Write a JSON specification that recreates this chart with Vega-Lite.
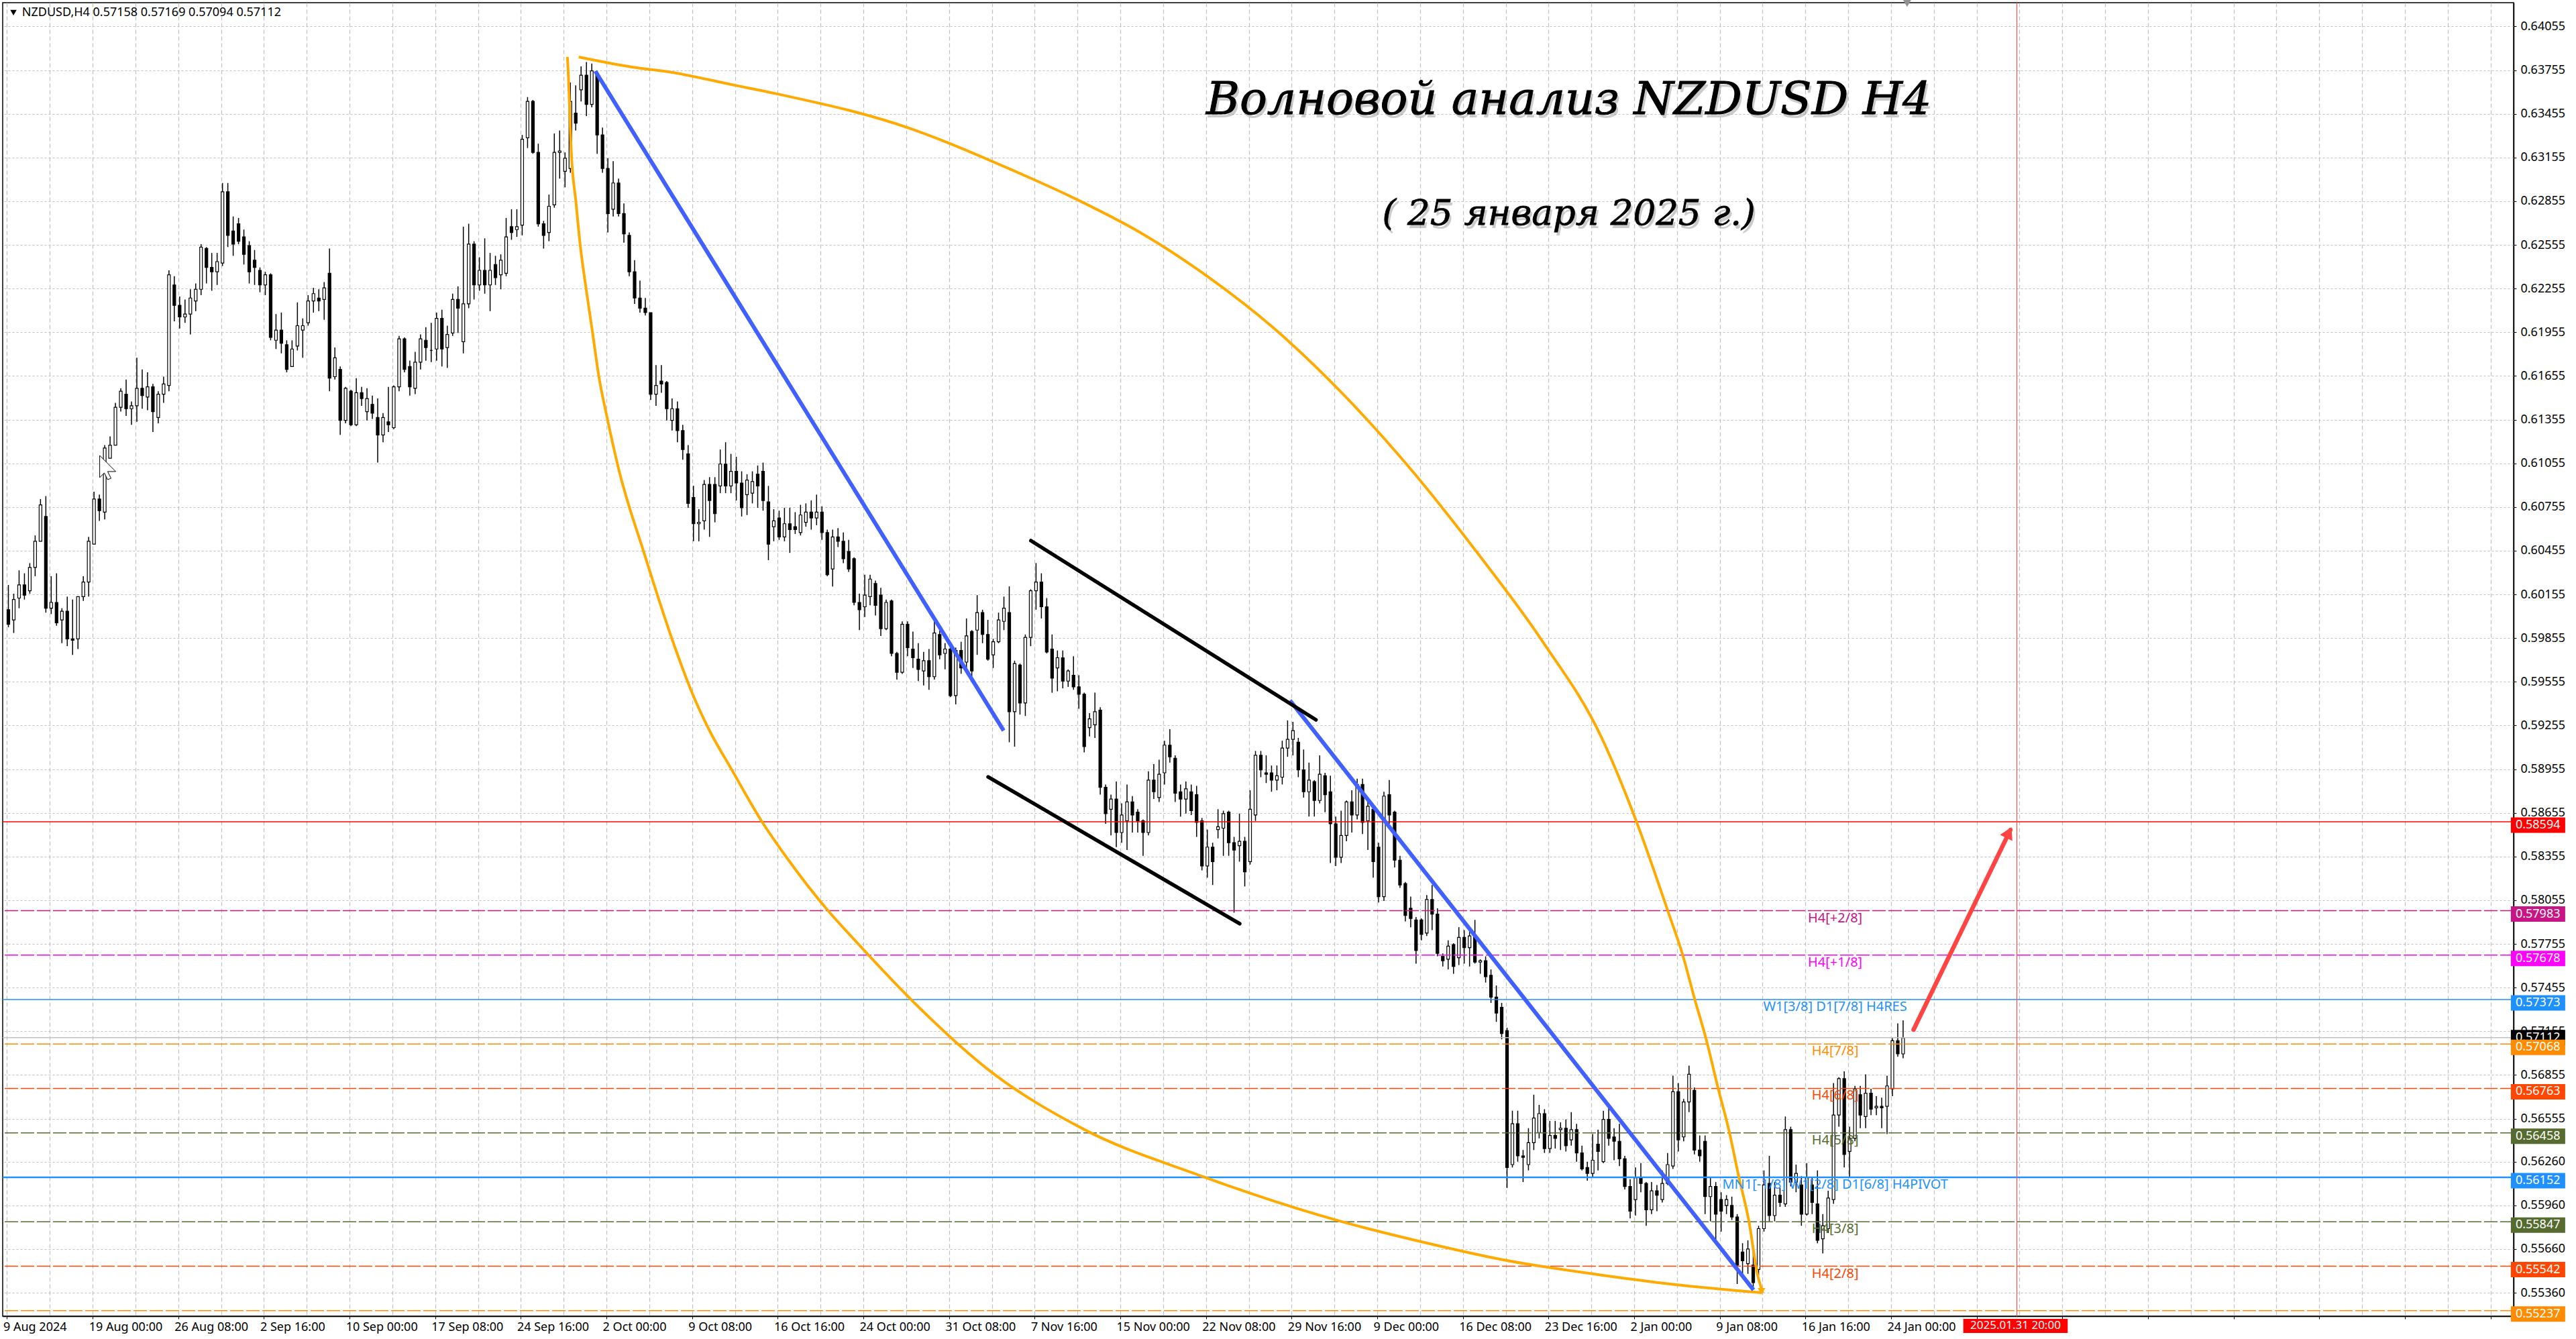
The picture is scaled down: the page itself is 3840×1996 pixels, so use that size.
{"$schema":"https://vega.github.io/schema/vega-lite/v6.json","autosize":"none","width":3743,"height":1958,"padding":{"left":4,"top":4,"right":93,"bottom":34},"background":"#ffffff","view":{"stroke":"#000000","strokeWidth":1.5,"fill":"#ffffff"},
"config":{"font":"Noto Sans"},
"datasets":{"levels":[
{"kind":"murrey","name":"p2","p":0.57983,"label":"H4[+2/8]"},
{"kind":"murrey","name":"p1","p":0.57678,"label":"H4[+1/8]"},
{"kind":"solid","name":"res","p":0.57373,"label":"W1[3/8] D1[7/8] H4RES"},
{"kind":"murrey","name":"m7","p":0.57068,"label":"H4[7/8]"},
{"kind":"murrey","name":"m6","p":0.56763,"label":"H4[6/8]"},
{"kind":"murrey","name":"m5","p":0.56458,"label":"H4[5/8]"},
{"kind":"pivot","name":"piv","p":0.56152,"label":"MN1[-1/8] W1[2/8] D1[6/8] H4PIVOT"},
{"kind":"murrey","name":"m3","p":0.55847,"label":"H4[3/8]"},
{"kind":"murrey","name":"m2","p":0.55542,"label":"H4[2/8]"},
{"kind":"murrey","name":"m1","p":0.55237,"label":""},
{"kind":"target","name":"tgt","p":0.58594,"label":""}
],
"curves":[
{"id":"arcB","i":209.4,"p":0.63845},{"id":"arcB","i":209.6,"p":0.63776},{"id":"arcB","i":210.95,"p":0.63154},{"id":"arcB","i":212.55,"p":0.62854},{"id":"arcB","i":214.2,"p":0.6255},{"id":"arcB","i":216.4,"p":0.62251},{"id":"arcB","i":218.8,"p":0.61951},{"id":"arcB","i":221.1,"p":0.61657},{"id":"arcB","i":224.1,"p":0.6138},{"id":"arcB","i":228.6,"p":0.61012},{"id":"arcB","i":238.1,"p":0.60436},{"id":"arcB","i":248.6,"p":0.59842},{"id":"arcB","i":255.9,"p":0.59483},{"id":"arcB","i":262.1,"p":0.59234},{"id":"arcB","i":270.9,"p":0.58948},{"id":"arcB","i":282.1,"p":0.58594},{"id":"arcB","i":290.9,"p":0.58359},{"id":"arcB","i":306.9,"p":0.57981},{"id":"arcB","i":316.4,"p":0.57788},{"id":"arcB","i":341.1,"p":0.57313},{"id":"arcB","i":365.9,"p":0.56903},{"id":"arcB","i":402.6,"p":0.5648},{"id":"arcB","i":445.6,"p":0.56166},{"id":"arcB","i":498.6,"p":0.55849},{"id":"arcB","i":527.4,"p":0.55715},{"id":"arcB","i":559.1,"p":0.55586},{"id":"arcB","i":594.4,"p":0.55485},{"id":"arcB","i":623.6,"p":0.55416},{"id":"arcB","i":655.5,"p":0.5536},
{"id":"arcA","i":213.6,"p":0.63845},{"id":"arcA","i":233.6,"p":0.63776},{"id":"arcA","i":248.6,"p":0.63739},{"id":"arcA","i":271.9,"p":0.63651},{"id":"arcA","i":287.9,"p":0.63591},{"id":"arcA","i":338.6,"p":0.63347},{"id":"arcA","i":348.6,"p":0.63278},{"id":"arcA","i":373.6,"p":0.63085},{"id":"arcA","i":398.6,"p":0.62877},{"id":"arcA","i":423.6,"p":0.62638},{"id":"arcA","i":448.6,"p":0.62338},{"id":"arcA","i":473.6,"p":0.61979},{"id":"arcA","i":498.6,"p":0.61542},{"id":"arcA","i":523.6,"p":0.61035},{"id":"arcA","i":549.6,"p":0.60436},{"id":"arcA","i":573.6,"p":0.59837},{"id":"arcA","i":595.9,"p":0.59169},{"id":"arcA","i":608.6,"p":0.58608},{"id":"arcA","i":620.6,"p":0.57981},{"id":"arcA","i":626.1,"p":0.57682},{"id":"arcA","i":630.6,"p":0.57378},{"id":"arcA","i":634.9,"p":0.57101},{"id":"arcA","i":639.3,"p":0.5677},{"id":"arcA","i":643.6,"p":0.56461},{"id":"arcA","i":647.1,"p":0.56157},{"id":"arcA","i":650.9,"p":0.55849},{"id":"arcA","i":654.1,"p":0.55485},{"id":"arcA","i":656.1,"p":0.5536},
{"id":"blue1","i":219.8,"p":0.63748},{"id":"blue1","i":372.4,"p":0.5922},
{"id":"blue2","i":479.4,"p":0.59427},{"id":"blue2","i":652.6,"p":0.55379},
{"id":"black1","i":382.6,"p":0.60524},{"id":"black1","i":489.1,"p":0.59294},
{"id":"black2","i":366.6,"p":0.58902},{"id":"black2","i":460.6,"p":0.57894},
{"id":"arrow","i":712.4,"p":0.57166},{"id":"arrow","i":748.6,"p":0.58538}
],
"candles":[
{"i":0,"o":0.6005,"h":0.6022,"l":0.5993,"c":0.5995},{"i":2,"o":0.5998,"h":0.6016,"l":0.5989,"c":0.6012},{"i":4,"o":0.6013,"h":0.6032,"l":0.6006,"c":0.6022},{"i":6,"o":0.6022,"h":0.6030,"l":0.6012,"c":0.6015},{"i":8,"o":0.6018,"h":0.6037,"l":0.6016,"c":0.6034},{"i":10,"o":0.6034,"h":0.6056,"l":0.6028,"c":0.6052},{"i":12,"o":0.6052,"h":0.6081,"l":0.6052,"c":0.6077},{"i":14,"o":0.6069,"h":0.6083,"l":0.6003,"c":0.6006},{"i":16,"o":0.6006,"h":0.6028,"l":0.6002,"c":0.6010},{"i":18,"o":0.6010,"h":0.6030,"l":0.5994,"c":0.5996},
{"i":20,"o":0.5998,"h":0.6006,"l":0.5982,"c":0.6004},{"i":22,"o":0.6004,"h":0.6014,"l":0.5980,"c":0.5985},{"i":24,"o":0.5985,"h":0.6012,"l":0.5974,"c":0.5984},{"i":26,"o":0.5985,"h":0.6014,"l":0.5978,"c":0.6014},{"i":28,"o":0.6014,"h":0.6028,"l":0.6011,"c":0.6024},{"i":30,"o":0.6024,"h":0.6055,"l":0.6014,"c":0.6052},{"i":32,"o":0.6050,"h":0.6086,"l":0.6050,"c":0.6081},{"i":34,"o":0.6081,"h":0.6084,"l":0.6066,"c":0.6073},{"i":36,"o":0.6072,"h":0.6118,"l":0.6067,"c":0.6116},{"i":38,"o":0.6109,"h":0.6124,"l":0.6109,"c":0.6118},
{"i":40,"o":0.6118,"h":0.6147,"l":0.6118,"c":0.6144},{"i":42,"o":0.6144,"h":0.6157,"l":0.6141,"c":0.6155},{"i":44,"o":0.6153,"h":0.6163,"l":0.6138,"c":0.6143},{"i":46,"o":0.6143,"h":0.6148,"l":0.6132,"c":0.6145},{"i":48,"o":0.6145,"h":0.6178,"l":0.6134,"c":0.6157},{"i":50,"o":0.6157,"h":0.6170,"l":0.6143,"c":0.6152},{"i":52,"o":0.6151,"h":0.6168,"l":0.6142,"c":0.6158},{"i":54,"o":0.6158,"h":0.6160,"l":0.6127,"c":0.6141},{"i":56,"o":0.6137,"h":0.6155,"l":0.6133,"c":0.6153},{"i":58,"o":0.6153,"h":0.6165,"l":0.6147,"c":0.6160},
{"i":60,"o":0.6159,"h":0.6238,"l":0.6155,"c":0.6235},{"i":62,"o":0.6228,"h":0.6234,"l":0.6203,"c":0.6214},{"i":64,"o":0.6214,"h":0.6220,"l":0.6198,"c":0.6206},{"i":66,"o":0.6206,"h":0.6218,"l":0.6202,"c":0.6208},{"i":68,"o":0.6208,"h":0.6225,"l":0.6194,"c":0.6219},{"i":70,"o":0.6217,"h":0.6229,"l":0.6210,"c":0.6225},{"i":72,"o":0.6225,"h":0.6256,"l":0.6221,"c":0.6254},{"i":74,"o":0.6253,"h":0.6254,"l":0.6229,"c":0.6240},{"i":76,"o":0.6240,"h":0.6250,"l":0.6224,"c":0.6237},{"i":78,"o":0.6237,"h":0.6250,"l":0.6228,"c":0.6244},
{"i":80,"o":0.6243,"h":0.6298,"l":0.6241,"c":0.6292},{"i":82,"o":0.6292,"h":0.6298,"l":0.6254,"c":0.6262},{"i":84,"o":0.6265,"h":0.6275,"l":0.6248,"c":0.6256},{"i":86,"o":0.6270,"h":0.6274,"l":0.6256,"c":0.6258},{"i":88,"o":0.6261,"h":0.6266,"l":0.6242,"c":0.6249},{"i":90,"o":0.6255,"h":0.6258,"l":0.6229,"c":0.6237},{"i":92,"o":0.6245,"h":0.6252,"l":0.6228,"c":0.6240},{"i":94,"o":0.6238,"h":0.6240,"l":0.6223,"c":0.6228},{"i":96,"o":0.6228,"h":0.6237,"l":0.6221,"c":0.6235},{"i":98,"o":0.6235,"h":0.6236,"l":0.6190,"c":0.6192},
{"i":100,"o":0.6190,"h":0.6208,"l":0.6184,"c":0.6197},{"i":102,"o":0.6197,"h":0.6209,"l":0.6181,"c":0.6188},{"i":104,"o":0.6187,"h":0.6190,"l":0.6168,"c":0.6170},{"i":106,"o":0.6172,"h":0.6190,"l":0.6172,"c":0.6184},{"i":108,"o":0.6186,"h":0.6216,"l":0.6183,"c":0.6200},{"i":110,"o":0.6197,"h":0.6205,"l":0.6178,"c":0.6200},{"i":112,"o":0.6202,"h":0.6221,"l":0.6200,"c":0.6217},{"i":114,"o":0.6217,"h":0.6226,"l":0.6209,"c":0.6222},{"i":116,"o":0.6219,"h":0.6225,"l":0.6210,"c":0.6217},{"i":118,"o":0.6218,"h":0.6230,"l":0.6204,"c":0.6226},
{"i":120,"o":0.6236,"h":0.6253,"l":0.6155,"c":0.6164},{"i":122,"o":0.6165,"h":0.6185,"l":0.6163,"c":0.6178},{"i":124,"o":0.6170,"h":0.6172,"l":0.6125,"c":0.6135},{"i":126,"o":0.6135,"h":0.6158,"l":0.6133,"c":0.6157},{"i":128,"o":0.6155,"h":0.6156,"l":0.6131,"c":0.6132},{"i":130,"o":0.6132,"h":0.6164,"l":0.6131,"c":0.6154},{"i":132,"o":0.6154,"h":0.6158,"l":0.6145,"c":0.6150},{"i":134,"o":0.6141,"h":0.6157,"l":0.6135,"c":0.6150},{"i":136,"o":0.6146,"h":0.6152,"l":0.6136,"c":0.6140},{"i":138,"o":0.6137,"h":0.6150,"l":0.6106,"c":0.6125},
{"i":140,"o":0.6125,"h":0.6140,"l":0.6120,"c":0.6137},{"i":142,"o":0.6134,"h":0.6158,"l":0.6127,"c":0.6132},{"i":144,"o":0.6130,"h":0.6159,"l":0.6129,"c":0.6158},{"i":146,"o":0.6158,"h":0.6193,"l":0.6155,"c":0.6191},{"i":148,"o":0.6191,"h":0.6192,"l":0.6168,"c":0.6170},{"i":150,"o":0.6172,"h":0.6176,"l":0.6152,"c":0.6158},{"i":152,"o":0.6157,"h":0.6182,"l":0.6153,"c":0.6175},{"i":154,"o":0.6175,"h":0.6194,"l":0.6170,"c":0.6191},{"i":156,"o":0.6190,"h":0.6199,"l":0.6176,"c":0.6185},{"i":158,"o":0.6183,"h":0.6202,"l":0.6175,"c":0.6183},
{"i":160,"o":0.6184,"h":0.6209,"l":0.6176,"c":0.6205},{"i":162,"o":0.6205,"h":0.6211,"l":0.6172,"c":0.6184},{"i":164,"o":0.6185,"h":0.6200,"l":0.6171,"c":0.6194},{"i":166,"o":0.6195,"h":0.6222,"l":0.6193,"c":0.6218},{"i":168,"o":0.6218,"h":0.6227,"l":0.6195,"c":0.6212},{"i":170,"o":0.6189,"h":0.6268,"l":0.6181,"c":0.6215},{"i":172,"o":0.6215,"h":0.6270,"l":0.6212,"c":0.6256},{"i":174,"o":0.6256,"h":0.6258,"l":0.6218,"c":0.6228},{"i":176,"o":0.6228,"h":0.6247,"l":0.6224,"c":0.6238},{"i":178,"o":0.6238,"h":0.6260,"l":0.6222,"c":0.6228},
{"i":180,"o":0.6228,"h":0.6250,"l":0.6210,"c":0.6238},{"i":182,"o":0.6242,"h":0.6248,"l":0.6228,"c":0.6233},{"i":184,"o":0.6235,"h":0.6249,"l":0.6225,"c":0.6245},{"i":186,"o":0.6236,"h":0.6274,"l":0.6234,"c":0.6261},{"i":188,"o":0.6268,"h":0.6280,"l":0.6259,"c":0.6264},{"i":190,"o":0.6266,"h":0.6280,"l":0.6261,"c":0.6268},{"i":192,"o":0.6269,"h":0.6331,"l":0.6262,"c":0.6328},{"i":194,"o":0.6329,"h":0.6357,"l":0.6322,"c":0.6354},{"i":196,"o":0.6354,"h":0.6355,"l":0.6318,"c":0.6319},{"i":198,"o":0.6319,"h":0.6325,"l":0.6268,"c":0.6270},
{"i":200,"o":0.6270,"h":0.6272,"l":0.6253,"c":0.6262},{"i":202,"o":0.6264,"h":0.6290,"l":0.6258,"c":0.6282},{"i":204,"o":0.6283,"h":0.6332,"l":0.6281,"c":0.6319},{"i":206,"o":0.6319,"h":0.6334,"l":0.6301,"c":0.6320},{"i":208,"o":0.6306,"h":0.6319,"l":0.6295,"c":0.6315},{"i":210,"o":0.6308,"h":0.6367,"l":0.6305,"c":0.6354},{"i":212,"o":0.6346,"h":0.6365,"l":0.6334,"c":0.6339},{"i":214,"o":0.6362,"h":0.6378,"l":0.6354,"c":0.6372},{"i":216,"o":0.6372,"h":0.6381,"l":0.6344,"c":0.6352},{"i":218,"o":0.6352,"h":0.6380,"l":0.6350,"c":0.6375},
{"i":220,"o":0.6373,"h":0.6375,"l":0.6318,"c":0.6331},{"i":222,"o":0.6331,"h":0.6336,"l":0.6305,"c":0.6308},{"i":224,"o":0.6308,"h":0.6315,"l":0.6264,"c":0.6277},{"i":226,"o":0.6280,"h":0.6313,"l":0.6275,"c":0.6298},{"i":228,"o":0.6298,"h":0.6301,"l":0.6275,"c":0.6277},{"i":230,"o":0.6277,"h":0.6284,"l":0.6257,"c":0.6263},{"i":232,"o":0.6262,"h":0.6264,"l":0.6234,"c":0.6237},{"i":234,"o":0.6237,"h":0.6245,"l":0.6215,"c":0.6219},{"i":236,"o":0.6219,"h":0.6231,"l":0.6209,"c":0.6212},{"i":238,"o":0.6212,"h":0.6219,"l":0.6207,"c":0.6209},
{"i":240,"o":0.6209,"h":0.6209,"l":0.6149,"c":0.6153},{"i":242,"o":0.6153,"h":0.6173,"l":0.6145,"c":0.6159},{"i":244,"o":0.6162,"h":0.6173,"l":0.6154,"c":0.6160},{"i":246,"o":0.6161,"h":0.6162,"l":0.6135,"c":0.6143},{"i":248,"o":0.6135,"h":0.6150,"l":0.6128,"c":0.6143},{"i":250,"o":0.6143,"h":0.6148,"l":0.6120,"c":0.6128},{"i":252,"o":0.6128,"h":0.6132,"l":0.6108,"c":0.6115},{"i":254,"o":0.6112,"h":0.6118,"l":0.6075,"c":0.6078},{"i":256,"o":0.6082,"h":0.6090,"l":0.6052,"c":0.6064},{"i":258,"o":0.6064,"h":0.6074,"l":0.6052,"c":0.6065},
{"i":260,"o":0.6066,"h":0.6094,"l":0.6060,"c":0.6091},{"i":262,"o":0.6091,"h":0.6096,"l":0.6055,"c":0.6080},{"i":264,"o":0.6091,"h":0.6096,"l":0.6065,"c":0.6071},{"i":266,"o":0.6090,"h":0.6115,"l":0.6085,"c":0.6105},{"i":268,"o":0.6105,"h":0.6120,"l":0.6085,"c":0.6090},{"i":270,"o":0.6090,"h":0.6112,"l":0.6085,"c":0.6100},{"i":272,"o":0.6100,"h":0.6110,"l":0.6080,"c":0.6092},{"i":274,"o":0.6092,"h":0.6100,"l":0.6069,"c":0.6075},{"i":276,"o":0.6084,"h":0.6098,"l":0.6070,"c":0.6094},{"i":278,"o":0.6085,"h":0.6100,"l":0.6078,"c":0.6093},
{"i":280,"o":0.6098,"h":0.6104,"l":0.6075,"c":0.6090},{"i":282,"o":0.6100,"h":0.6106,"l":0.6073,"c":0.6080},{"i":284,"o":0.6079,"h":0.6090,"l":0.6039,"c":0.6050},{"i":286,"o":0.6062,"h":0.6074,"l":0.6052,"c":0.6066},{"i":288,"o":0.6068,"h":0.6073,"l":0.6053,"c":0.6055},{"i":290,"o":0.6055,"h":0.6075,"l":0.6052,"c":0.6064},{"i":292,"o":0.6064,"h":0.6075,"l":0.6044,"c":0.6060},{"i":294,"o":0.6062,"h":0.6072,"l":0.6057,"c":0.6060},{"i":296,"o":0.6058,"h":0.6077,"l":0.6056,"c":0.6070},{"i":298,"o":0.6065,"h":0.6078,"l":0.6062,"c":0.6072},
{"i":300,"o":0.6072,"h":0.6080,"l":0.6060,"c":0.6068},{"i":302,"o":0.6068,"h":0.6084,"l":0.6063,"c":0.6072},{"i":304,"o":0.6072,"h":0.6076,"l":0.6053,"c":0.6058},{"i":306,"o":0.6058,"h":0.6060,"l":0.6028,"c":0.6029},{"i":308,"o":0.6033,"h":0.6060,"l":0.6021,"c":0.6055},{"i":310,"o":0.6055,"h":0.6061,"l":0.6048,"c":0.6052},{"i":312,"o":0.6052,"h":0.6058,"l":0.6037,"c":0.6040},{"i":314,"o":0.6045,"h":0.6053,"l":0.6031,"c":0.6033},{"i":316,"o":0.6040,"h":0.6041,"l":0.6008,"c":0.6010},{"i":318,"o":0.6010,"h":0.6016,"l":0.5991,"c":0.6005},
{"i":320,"o":0.6007,"h":0.6029,"l":0.6000,"c":0.6015},{"i":322,"o":0.6014,"h":0.6029,"l":0.6008,"c":0.6026},{"i":324,"o":0.6023,"h":0.6025,"l":0.6001,"c":0.6008},{"i":326,"o":0.6015,"h":0.6020,"l":0.5987,"c":0.5992},{"i":328,"o":0.5992,"h":0.6012,"l":0.5991,"c":0.6010},{"i":330,"o":0.6011,"h":0.6012,"l":0.5973,"c":0.5975},{"i":332,"o":0.5975,"h":0.5976,"l":0.5957,"c":0.5962},{"i":334,"o":0.5962,"h":0.5997,"l":0.5961,"c":0.5995},{"i":336,"o":0.5995,"h":0.5997,"l":0.5973,"c":0.5979},{"i":338,"o":0.5978,"h":0.5990,"l":0.5965,"c":0.5972},
{"i":340,"o":0.5971,"h":0.5982,"l":0.5956,"c":0.5964},{"i":342,"o":0.5963,"h":0.5976,"l":0.5953,"c":0.5970},{"i":344,"o":0.5970,"h":0.5978,"l":0.5950,"c":0.5959},{"i":346,"o":0.5959,"h":0.5998,"l":0.5957,"c":0.5989},{"i":348,"o":0.5988,"h":0.5991,"l":0.5971,"c":0.5974},{"i":350,"o":0.5975,"h":0.5982,"l":0.5964,"c":0.5978},{"i":352,"o":0.5978,"h":0.5979,"l":0.5945,"c":0.5946},{"i":354,"o":0.5946,"h":0.5979,"l":0.5940,"c":0.5977},{"i":356,"o":0.5977,"h":0.5983,"l":0.5961,"c":0.5965},{"i":358,"o":0.5969,"h":0.5999,"l":0.5964,"c":0.5987},
{"i":360,"o":0.5990,"h":0.5991,"l":0.5958,"c":0.5963},{"i":362,"o":0.5991,"h":0.6015,"l":0.5974,"c":0.6003},{"i":364,"o":0.6003,"h":0.6005,"l":0.5982,"c":0.5988},{"i":366,"o":0.5988,"h":0.5998,"l":0.5970,"c":0.5971},{"i":368,"o":0.5974,"h":0.5985,"l":0.5965,"c":0.5983},{"i":370,"o":0.5983,"h":0.6003,"l":0.5982,"c":0.5998},{"i":372,"o":0.5997,"h":0.6014,"l":0.5991,"c":0.6006},{"i":374,"o":0.6003,"h":0.6021,"l":0.5914,"c":0.5935},{"i":376,"o":0.5935,"h":0.5970,"l":0.5911,"c":0.5968},{"i":378,"o":0.5967,"h":0.5968,"l":0.5933,"c":0.5941},
{"i":380,"o":0.5941,"h":0.5988,"l":0.5932,"c":0.5986},{"i":382,"o":0.5986,"h":0.6019,"l":0.5980,"c":0.6018},{"i":384,"o":0.6018,"h":0.6037,"l":0.6005,"c":0.6024},{"i":386,"o":0.6024,"h":0.6030,"l":0.5999,"c":0.6007},{"i":388,"o":0.6007,"h":0.6013,"l":0.5975,"c":0.5976},{"i":390,"o":0.5978,"h":0.5988,"l":0.5948,"c":0.5958},{"i":392,"o":0.5965,"h":0.5977,"l":0.5949,"c":0.5972},{"i":394,"o":0.5972,"h":0.5977,"l":0.5951,"c":0.5956},{"i":396,"o":0.5956,"h":0.5964,"l":0.5952,"c":0.5963},{"i":398,"o":0.5960,"h":0.5973,"l":0.5950,"c":0.5952},
{"i":400,"o":0.5952,"h":0.5960,"l":0.5937,"c":0.5947},{"i":402,"o":0.5947,"h":0.5948,"l":0.5907,"c":0.5911},{"i":404,"o":0.5924,"h":0.5934,"l":0.5918,"c":0.5930},{"i":406,"o":0.5926,"h":0.5948,"l":0.5917,"c":0.5935},{"i":408,"o":0.5936,"h":0.5938,"l":0.5878,"c":0.5883},{"i":410,"o":0.5883,"h":0.5885,"l":0.5858,"c":0.5865},{"i":412,"o":0.5868,"h":0.5878,"l":0.5850,"c":0.5875},{"i":414,"o":0.5875,"h":0.5887,"l":0.5842,"c":0.5852},{"i":416,"o":0.5852,"h":0.5872,"l":0.5845,"c":0.5864},{"i":418,"o":0.5860,"h":0.5885,"l":0.5840,"c":0.5873},
{"i":420,"o":0.5873,"h":0.5877,"l":0.5852,"c":0.5864},{"i":422,"o":0.5866,"h":0.5868,"l":0.5852,"c":0.5860},{"i":424,"o":0.5860,"h":0.5861,"l":0.5836,"c":0.5852},{"i":426,"o":0.5852,"h":0.5894,"l":0.5850,"c":0.5888},{"i":428,"o":0.5888,"h":0.5899,"l":0.5875,"c":0.5880},{"i":430,"o":0.5876,"h":0.5902,"l":0.5873,"c":0.5892},{"i":432,"o":0.5893,"h":0.5915,"l":0.5885,"c":0.5912},{"i":434,"o":0.5912,"h":0.5923,"l":0.5900,"c":0.5904},{"i":436,"o":0.5903,"h":0.5905,"l":0.5873,"c":0.5879},{"i":438,"o":0.5880,"h":0.5885,"l":0.5863,"c":0.5875},
{"i":440,"o":0.5875,"h":0.5887,"l":0.5865,"c":0.5882},{"i":442,"o":0.5880,"h":0.5885,"l":0.5864,"c":0.5867},{"i":444,"o":0.5878,"h":0.5884,"l":0.5849,"c":0.5859},{"i":446,"o":0.5860,"h":0.5862,"l":0.5826,"c":0.5829},{"i":448,"o":0.5829,"h":0.5854,"l":0.5821,"c":0.5842},{"i":450,"o":0.5842,"h":0.5845,"l":0.5816,"c":0.5832},{"i":452,"o":0.5854,"h":0.5868,"l":0.5848,"c":0.5856},{"i":454,"o":0.5855,"h":0.5867,"l":0.5836,"c":0.5865},{"i":456,"o":0.5866,"h":0.5867,"l":0.5836,"c":0.5845},{"i":458,"o":0.5845,"h":0.5849,"l":0.5797,"c":0.5840},
{"i":460,"o":0.5843,"h":0.5865,"l":0.5832,"c":0.5846},{"i":462,"o":0.5846,"h":0.5849,"l":0.5815,"c":0.5825},{"i":464,"o":0.5832,"h":0.5881,"l":0.5830,"c":0.5868},{"i":466,"o":0.5864,"h":0.5908,"l":0.5860,"c":0.5905},{"i":468,"o":0.5905,"h":0.5908,"l":0.5890,"c":0.5895},{"i":470,"o":0.5893,"h":0.5905,"l":0.5886,"c":0.5892},{"i":472,"o":0.5893,"h":0.5898,"l":0.5880,"c":0.5888},{"i":474,"o":0.5888,"h":0.5898,"l":0.5881,"c":0.5891},{"i":476,"o":0.5890,"h":0.5915,"l":0.5885,"c":0.5910},{"i":478,"o":0.5910,"h":0.5929,"l":0.5904,"c":0.5916},
{"i":480,"o":0.5916,"h":0.5928,"l":0.5905,"c":0.5922},{"i":482,"o":0.5914,"h":0.5917,"l":0.5890,"c":0.5895},{"i":484,"o":0.5895,"h":0.5909,"l":0.5876,"c":0.5880},{"i":486,"o":0.5880,"h":0.5900,"l":0.5863,"c":0.5888},{"i":488,"o":0.5887,"h":0.5888,"l":0.5863,"c":0.5874},{"i":490,"o":0.5874,"h":0.5905,"l":0.5872,"c":0.5892},{"i":492,"o":0.5891,"h":0.5893,"l":0.5866,"c":0.5878},{"i":494,"o":0.5880,"h":0.5891,"l":0.5831,"c":0.5858},{"i":496,"o":0.5858,"h":0.5863,"l":0.5829,"c":0.5835},{"i":498,"o":0.5835,"h":0.5867,"l":0.5831,"c":0.5850},
{"i":500,"o":0.5850,"h":0.5874,"l":0.5846,"c":0.5873},{"i":502,"o":0.5873,"h":0.5881,"l":0.5852,"c":0.5864},{"i":504,"o":0.5864,"h":0.5889,"l":0.5861,"c":0.5885},{"i":506,"o":0.5885,"h":0.5889,"l":0.5851,"c":0.5859},{"i":508,"o":0.5860,"h":0.5876,"l":0.5840,"c":0.5870},{"i":510,"o":0.5868,"h":0.5870,"l":0.5821,"c":0.5832},{"i":512,"o":0.5842,"h":0.5845,"l":0.5804,"c":0.5808},{"i":514,"o":0.5808,"h":0.5880,"l":0.5805,"c":0.5877},{"i":516,"o":0.5878,"h":0.5888,"l":0.5858,"c":0.5864},{"i":518,"o":0.5866,"h":0.5867,"l":0.5828,"c":0.5833},
{"i":520,"o":0.5833,"h":0.5836,"l":0.5814,"c":0.5816},{"i":522,"o":0.5817,"h":0.5818,"l":0.5791,"c":0.5795},{"i":524,"o":0.5800,"h":0.5808,"l":0.5787,"c":0.5793},{"i":526,"o":0.5792,"h":0.5794,"l":0.5762,"c":0.5771},{"i":528,"o":0.5792,"h":0.5793,"l":0.5778,"c":0.5782},{"i":530,"o":0.5783,"h":0.5809,"l":0.5781,"c":0.5806},{"i":532,"o":0.5806,"h":0.5816,"l":0.5785,"c":0.5796},{"i":534,"o":0.5796,"h":0.5800,"l":0.5767,"c":0.5769},{"i":536,"o":0.5767,"h":0.5769,"l":0.5760,"c":0.5764},{"i":538,"o":0.5765,"h":0.5778,"l":0.5758,"c":0.5774},
{"i":540,"o":0.5775,"h":0.5776,"l":0.5755,"c":0.5760},{"i":542,"o":0.5766,"h":0.5787,"l":0.5761,"c":0.5780},{"i":544,"o":0.5780,"h":0.5785,"l":0.5762,"c":0.5773},{"i":546,"o":0.5773,"h":0.5784,"l":0.5760,"c":0.5781},{"i":548,"o":0.5781,"h":0.5792,"l":0.5762,"c":0.5763},{"i":550,"o":0.5763,"h":0.5765,"l":0.5755,"c":0.5764},{"i":552,"o":0.5764,"h":0.5767,"l":0.5749,"c":0.5753},{"i":554,"o":0.5754,"h":0.5758,"l":0.5735,"c":0.5739},{"i":556,"o":0.5739,"h":0.5747,"l":0.5722,"c":0.5728},{"i":558,"o":0.5732,"h":0.5735,"l":0.5710,"c":0.5714},
{"i":560,"o":0.5716,"h":0.5718,"l":0.5608,"c":0.5622},{"i":562,"o":0.5624,"h":0.5661,"l":0.5622,"c":0.5652},{"i":564,"o":0.5652,"h":0.5661,"l":0.5626,"c":0.5630},{"i":566,"o":0.5630,"h":0.5634,"l":0.5612,"c":0.5629},{"i":568,"o":0.5624,"h":0.5649,"l":0.5620,"c":0.5639},{"i":570,"o":0.5639,"h":0.5672,"l":0.5634,"c":0.5656},{"i":572,"o":0.5646,"h":0.5665,"l":0.5642,"c":0.5659},{"i":574,"o":0.5659,"h":0.5662,"l":0.5632,"c":0.5635},{"i":576,"o":0.5635,"h":0.5654,"l":0.5632,"c":0.5644},{"i":578,"o":0.5644,"h":0.5654,"l":0.5635,"c":0.5642},
{"i":580,"o":0.5648,"h":0.5653,"l":0.5634,"c":0.5649},{"i":582,"o":0.5649,"h":0.5655,"l":0.5633,"c":0.5637},{"i":584,"o":0.5641,"h":0.5660,"l":0.5637,"c":0.5648},{"i":586,"o":0.5648,"h":0.5652,"l":0.5626,"c":0.5632},{"i":588,"o":0.5632,"h":0.5637,"l":0.5620,"c":0.5621},{"i":590,"o":0.5622,"h":0.5626,"l":0.5613,"c":0.5618},{"i":592,"o":0.5618,"h":0.5645,"l":0.5615,"c":0.5627},{"i":594,"o":0.5638,"h":0.5648,"l":0.5620,"c":0.5633},{"i":596,"o":0.5626,"h":0.5661,"l":0.5625,"c":0.5655},{"i":598,"o":0.5655,"h":0.5666,"l":0.5637,"c":0.5642},
{"i":600,"o":0.5643,"h":0.5649,"l":0.5627,"c":0.5640},{"i":602,"o":0.5640,"h":0.5652,"l":0.5623,"c":0.5628},{"i":604,"o":0.5628,"h":0.5630,"l":0.5607,"c":0.5609},{"i":606,"o":0.5609,"h":0.5614,"l":0.5587,"c":0.5592},{"i":608,"o":0.5600,"h":0.5622,"l":0.5589,"c":0.5615},{"i":610,"o":0.5615,"h":0.5625,"l":0.5605,"c":0.5611},{"i":612,"o":0.5611,"h":0.5612,"l":0.5582,"c":0.5593},{"i":614,"o":0.5593,"h":0.5612,"l":0.5590,"c":0.5606},{"i":616,"o":0.5606,"h":0.5610,"l":0.5592,"c":0.5603},{"i":618,"o":0.5600,"h":0.5620,"l":0.5598,"c":0.5611},
{"i":620,"o":0.5611,"h":0.5632,"l":0.5610,"c":0.5624},{"i":622,"o":0.5623,"h":0.5685,"l":0.5621,"c":0.5674},{"i":624,"o":0.5674,"h":0.5680,"l":0.5633,"c":0.5641},{"i":626,"o":0.5643,"h":0.5669,"l":0.5640,"c":0.5667},{"i":628,"o":0.5667,"h":0.5692,"l":0.5660,"c":0.5686},{"i":630,"o":0.5675,"h":0.5677,"l":0.5631,"c":0.5634},{"i":632,"o":0.5634,"h":0.5644,"l":0.5626,"c":0.5630},{"i":634,"o":0.5640,"h":0.5644,"l":0.5590,"c":0.5602},{"i":636,"o":0.5602,"h":0.5615,"l":0.5585,"c":0.5609},{"i":638,"o":0.5609,"h":0.5612,"l":0.5572,"c":0.5590},
{"i":640,"o":0.5600,"h":0.5605,"l":0.5578,"c":0.5592},{"i":642,"o":0.5596,"h":0.5603,"l":0.5590,"c":0.5600},{"i":644,"o":0.5596,"h":0.5602,"l":0.5586,"c":0.5588},{"i":646,"o":0.5588,"h":0.5590,"l":0.5542,"c":0.5555},{"i":648,"o":0.5564,"h":0.5570,"l":0.5546,"c":0.5558},{"i":650,"o":0.5556,"h":0.5572,"l":0.5549,"c":0.5566},{"i":652,"o":0.5555,"h":0.5566,"l":0.5540,"c":0.5543},{"i":654,"o":0.5552,"h":0.5582,"l":0.5548,"c":0.5580},{"i":656,"o":0.5580,"h":0.5620,"l":0.5578,"c":0.5610},{"i":658,"o":0.5611,"h":0.5630,"l":0.5585,"c":0.5589},
{"i":660,"o":0.5589,"h":0.5612,"l":0.5585,"c":0.5603},{"i":662,"o":0.5603,"h":0.5608,"l":0.5595,"c":0.5598},{"i":664,"o":0.5597,"h":0.5657,"l":0.5595,"c":0.5648},{"i":666,"o":0.5648,"h":0.5650,"l":0.5609,"c":0.5612},{"i":668,"o":0.5612,"h":0.5624,"l":0.5605,"c":0.5618},{"i":670,"o":0.5610,"h":0.5616,"l":0.5582,"c":0.5590},{"i":672,"o":0.5590,"h":0.5625,"l":0.5589,"c":0.5615},{"i":674,"o":0.5610,"h":0.5615,"l":0.5590,"c":0.5598},{"i":676,"o":0.5597,"h":0.5620,"l":0.5570,"c":0.5572},{"i":678,"o":0.5573,"h":0.5590,"l":0.5563,"c":0.5582},
{"i":680,"o":0.5580,"h":0.5606,"l":0.5577,"c":0.5601},{"i":682,"o":0.5600,"h":0.5680,"l":0.5597,"c":0.5658},{"i":684,"o":0.5658,"h":0.5684,"l":0.5650,"c":0.5683},{"i":686,"o":0.5683,"h":0.5688,"l":0.5622,"c":0.5631},{"i":688,"o":0.5633,"h":0.5650,"l":0.5615,"c":0.5642},{"i":690,"o":0.5642,"h":0.5678,"l":0.5640,"c":0.5676},{"i":692,"o":0.5672,"h":0.5678,"l":0.5649,"c":0.5658},{"i":694,"o":0.5657,"h":0.5686,"l":0.5649,"c":0.5673},{"i":696,"o":0.5673,"h":0.5676,"l":0.5658,"c":0.5662},{"i":698,"o":0.5663,"h":0.5671,"l":0.5658,"c":0.5664},
{"i":700,"o":0.5664,"h":0.5670,"l":0.5649,"c":0.5663},{"i":702,"o":0.5664,"h":0.5685,"l":0.5645,"c":0.5678},{"i":704,"o":0.5676,"h":0.5711,"l":0.5671,"c":0.5709},{"i":706,"o":0.5709,"h":0.5721,"l":0.5698,"c":0.5700},{"i":708,"o":0.5700,"h":0.5723,"l":0.5697,"c":0.5711}
]},
"layer":[
{"data":{"name":"candles"},"mark":{"type":"rule","color":"#000000","strokeWidth":1.5,"xOffset":2},
"encoding":{"x":{"field":"i","type":"quantitative","scale":{"domain":[-0.375,935.375],"nice":false,"zero":false},
"axis":{"title":null,"orient":"bottom","values":[0,16,32,48,64,80,96,112,128,144,160,176,192,208,224,240,256,272,288,304,320,336,352,368,384,400,416,432,448,464,480,496,512,528,544,560,576,592,608,624,640,656,672,688,704,720,736,752,768,784,800,816,832,848,864,880,896,912,928],
"labelExpr":"datum.value%32==0 ? (['9 Aug 2024','19 Aug 00:00','26 Aug 08:00','2 Sep 16:00','10 Sep 00:00','17 Sep 08:00','24 Sep 16:00','2 Oct 00:00','9 Oct 08:00','16 Oct 16:00','24 Oct 00:00','31 Oct 08:00','7 Nov 16:00','15 Nov 00:00','22 Nov 08:00','29 Nov 16:00','9 Dec 00:00','16 Dec 08:00','23 Dec 16:00','2 Jan 00:00','9 Jan 08:00','16 Jan 16:00','24 Jan 00:00'][datum.value/32] || '') : ''",
"labelAlign":"left","labelBaseline":"top","labelFontSize":18,"labelFont":"Noto Sans","labelColor":"#000000","labelOverlap":false,"labelBound":false,"labelFlush":false,"labelPadding":3,"labelOffset":-6,"tickSize":4,"tickColor":"#000000","tickOpacity":{"condition":{"test":"datum.value%32==0","value":1},"value":0},"domain":true,"domainColor":"#000000","domainWidth":1.5,"grid":true,"gridColor":"#c0c0c0","gridDash":[6,4],"gridWidth":1.2}},
"y":{"field":"l","type":"quantitative","scale":{"domain":[0.55199,0.64218],"nice":false,"zero":false},
"axis":{"title":null,"orient":"right","values":[0.64055,0.63755,0.63455,0.63155,0.62855,0.62555,0.62255,0.61955,0.61655,0.61355,0.61055,0.60755,0.60455,0.60155,0.59855,0.59555,0.59255,0.58955,0.58655,0.58355,0.58055,0.57755,0.57455,0.57155,0.56855,0.56555,0.5626,0.5596,0.5566,0.5536],"format":".5f","labelFontSize":18,"labelFont":"Noto Sans","labelColor":"#000000","labelOverlap":false,"labelBound":false,"labelFlush":false,"labelPadding":6,"tickSize":4,"tickColor":"#000000","domain":true,"domainColor":"#000000","domainWidth":1.5,"grid":true,"gridColor":"#c0c0c0","gridDash":[3,3],"gridWidth":1.2}},
"y2":{"field":"h"}}},
{"data":{"name":"candles"},"mark":{"type":"bar","size":4,"stroke":"#000000","strokeWidth":1.2,"xOffset":2},
"encoding":{"x":{"field":"i","type":"quantitative"},"y":{"field":"o","type":"quantitative"},"y2":{"field":"c"},"fill":{"condition":{"test":"datum.c>=datum.o","value":"#ffffff"},"value":"#000000"}}},
{"data":{"name":"levels"},"transform":[{"filter":"datum.kind=='murrey'"}],"mark":{"type":"rule","strokeDash":[20,4],"strokeWidth":1.5},
"encoding":{"y":{"field":"p","type":"quantitative"},"color":{"field":"name","type":"nominal","legend":null,"scale":{"domain":["p2","p1","res","m7","m6","m5","piv","m3","m2","m1","tgt"],"range":["#C71585","#FF00FF","#1E90FF","#FF8C00","#FF4500","#556B2F","#1E90FF","#556B2F","#FF4500","#FF8C00","#FF0000"]}}}},
{"data":{"name":"levels"},"transform":[{"filter":"datum.kind=='solid' || datum.kind=='target'"}],"mark":{"type":"rule","strokeWidth":1.5},
"encoding":{"y":{"field":"p","type":"quantitative"},"color":{"field":"name","type":"nominal","legend":null}}},
{"data":{"name":"levels"},"transform":[{"filter":"datum.kind=='pivot'"}],"mark":{"type":"rule","strokeWidth":2.5},
"encoding":{"y":{"field":"p","type":"quantitative"},"color":{"field":"name","type":"nominal","legend":null}}},
{"data":{"values":[{"p":0.57112}]},"mark":{"type":"rule","strokeWidth":1.5,"color":"#c0c0c0"},"encoding":{"y":{"field":"p","type":"quantitative"}}},
{"data":{"values":[{"i":751}]},"mark":{"type":"rule","strokeWidth":1.2,"color":"#FF5050"},"encoding":{"x":{"field":"i","type":"quantitative"}}},
{"data":{"name":"curves"},"transform":[{"filter":"datum.id=='arcA' || datum.id=='arcB'"}],"mark":{"type":"line","color":"#FFAA00","strokeWidth":4,"interpolate":"monotone"},
"encoding":{"x":{"field":"i","type":"quantitative"},"y":{"field":"p","type":"quantitative"},"detail":{"field":"id"}}},
{"data":{"values":[{"i":655.6,"p":0.5537}]},"mark":{"type":"point","shape":"triangle-down","filled":true,"color":"#FFAA00","opacity":1,"size":130},"encoding":{"x":{"field":"i","type":"quantitative"},"y":{"field":"p","type":"quantitative"}}},
{"data":{"name":"curves"},"transform":[{"filter":"datum.id=='blue1' || datum.id=='blue2'"}],"mark":{"type":"line","color":"#4060FF","strokeWidth":6},
"encoding":{"x":{"field":"i","type":"quantitative"},"y":{"field":"p","type":"quantitative"},"detail":{"field":"id"}}},
{"data":{"name":"curves"},"transform":[{"filter":"datum.id=='black1' || datum.id=='black2'"}],"mark":{"type":"line","color":"#000000","strokeWidth":5.5,"strokeCap":"round"},
"encoding":{"x":{"field":"i","type":"quantitative"},"y":{"field":"p","type":"quantitative"},"detail":{"field":"id"}}},
{"data":{"name":"curves"},"transform":[{"filter":"datum.id=='arrow'"}],"mark":{"type":"line","color":"#FF4444","strokeWidth":6.5,"strokeCap":"round"},
"encoding":{"x":{"field":"i","type":"quantitative"},"y":{"field":"p","type":"quantitative"}}},
{"data":{"values":[{"i":748,"p":0.5852}]},"mark":{"type":"point","shape":"triangle-up","filled":true,"color":"#FF4444","opacity":1,"size":420,"angle":26},
"encoding":{"x":{"field":"i","type":"quantitative"},"y":{"field":"p","type":"quantitative"}}},
{"data":{"name":"levels"},"transform":[{"filter":"datum.label!=''"}],"mark":{"type":"text","fontSize":20,"font":"Noto Sans","align":"center","baseline":"middle","dy":11},
"encoding":{"x":{"datum":683.1},"y":{"field":"p","type":"quantitative"},"text":{"field":"label"},"color":{"field":"name","type":"nominal","legend":null}}},
{"data":{"values":[{"p":0.57112}]},"mark":{"type":"rect","color":"#000000","height":23},"encoding":{"x":{"datum":935.6},"x2":{"datum":955.9},"y":{"field":"p","type":"quantitative"}}},
{"data":{"values":[{"p":0.57112}]},"mark":{"type":"text","color":"#ffffff","fontSize":18,"font":"Noto Sans","align":"center","baseline":"middle"},"encoding":{"x":{"datum":945.7},"y":{"field":"p","type":"quantitative"},"text":{"field":"p","format":".5f"}}},
{"data":{"name":"levels"},"mark":{"type":"rect","height":23,"yOffset":5},"encoding":{"x":{"datum":935.6},"x2":{"datum":955.9},"y":{"field":"p","type":"quantitative"},"color":{"field":"name","type":"nominal","legend":null}}},
{"data":{"name":"levels"},"mark":{"type":"text","color":"#ffffff","fontSize":18,"font":"Noto Sans","align":"center","baseline":"middle","dy":5},"encoding":{"x":{"datum":945.7},"y":{"field":"p","type":"quantitative"},"text":{"field":"p","format":".5f"}}},
{"data":{"values":[{"i":731,"j":770,"a":0.55181,"b":0.55084}]},"mark":{"type":"rect","color":"#FF0000"},"encoding":{"x":{"field":"i","type":"quantitative"},"x2":{"field":"j"},"y":{"field":"a","type":"quantitative"},"y2":{"field":"b"}}},
{"data":{"values":[{"i":750.5,"p":0.55133,"t":"2025.01.31 20:00"}]},"mark":{"type":"text","color":"#ffffff","fontSize":17,"font":"Noto Sans","align":"center","baseline":"middle"},"encoding":{"x":{"field":"i","type":"quantitative"},"y":{"field":"p","type":"quantitative"},"text":{"field":"t"}}},
{"data":{"values":[{"i":5.6,"p":0.64149,"t":"NZDUSD,H4  0.57158 0.57169 0.57094 0.57112"}]},"mark":{"type":"text","color":"#000000","fontSize":18,"font":"Noto Sans","align":"left","baseline":"middle"},"encoding":{"x":{"field":"i","type":"quantitative"},"y":{"field":"p","type":"quantitative"},"text":{"field":"t"}}},
{"data":{"values":[{"i":2.4,"p":0.64149}]},"mark":{"type":"point","shape":"triangle-down","filled":true,"color":"#000000","opacity":1,"size":90},"encoding":{"x":{"field":"i","type":"quantitative"},"y":{"field":"p","type":"quantitative"}}},
{"data":{"values":[{"i":710,"p":0.64213}]},"mark":{"type":"point","shape":"triangle-down","filled":true,"color":"#909090","opacity":1,"size":140},"encoding":{"x":{"field":"i","type":"quantitative"},"y":{"field":"p","type":"quantitative"}}},
{"data":{"values":[{"i":37.1,"p":0.61026}]},"mark":{"type":"point","shape":"M-0.55,-1 L-0.55,0.83 L-0.17,0.44 L0.11,1 L0.39,0.89 L0.11,0.33 L0.78,0.33 Z","filled":true,"fill":"#ffffff","stroke":"#000000","strokeWidth":1,"opacity":1,"size":1296},"encoding":{"x":{"field":"i","type":"quantitative"},"y":{"field":"p","type":"quantitative"}}},
{"data":{"values":[{"i":583.6,"p":0.63454,"t":"Волновой анализ NZDUSD H4"}]},"mark":{"type":"text","color":"#808080","opacity":0.4,"fontSize":68,"font":"DejaVu Serif","fontStyle":"italic","align":"center","baseline":"alphabetic","dx":3,"dy":5},"encoding":{"x":{"field":"i","type":"quantitative"},"y":{"field":"p","type":"quantitative"},"text":{"field":"t"}}},
{"data":{"values":[{"i":583.6,"p":0.63454,"t":"Волновой анализ NZDUSD H4"}]},"mark":{"type":"text","color":"#000000","stroke":"#000000","strokeWidth":1,"fontSize":68,"font":"DejaVu Serif","fontStyle":"italic","align":"center","baseline":"alphabetic"},"encoding":{"x":{"field":"i","type":"quantitative"},"y":{"field":"p","type":"quantitative"},"text":{"field":"t"}}},
{"data":{"values":[{"i":583.6,"p":0.62693,"t":"( 25 января 2025 г.)"}]},"mark":{"type":"text","color":"#808080","opacity":0.4,"fontSize":53,"font":"DejaVu Serif","fontStyle":"italic","align":"center","baseline":"alphabetic","dx":3,"dy":5},"encoding":{"x":{"field":"i","type":"quantitative"},"y":{"field":"p","type":"quantitative"},"text":{"field":"t"}}},
{"data":{"values":[{"i":583.6,"p":0.62693,"t":"( 25 января 2025 г.)"}]},"mark":{"type":"text","color":"#000000","stroke":"#000000","strokeWidth":0.8,"fontSize":53,"font":"DejaVu Serif","fontStyle":"italic","align":"center","baseline":"alphabetic"},"encoding":{"x":{"field":"i","type":"quantitative"},"y":{"field":"p","type":"quantitative"},"text":{"field":"t"}}}
]}
